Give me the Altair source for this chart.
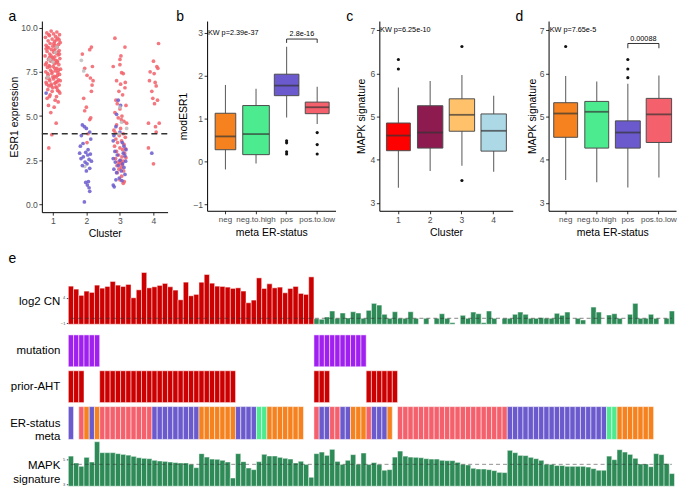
import altair as alt
import pandas as pd

FONT = "Liberation Sans"

# ---------------- panel a : ESR1 expression by cluster ----------------
a_groups = ["ER+", "ER-", "NA"]
a_colors = ["#F2606A", "#6A5ACD", "#BDBDBD"]

a1_pos = [(9.8,-0.05),(9.75,0.12),(9.7,-0.18),(9.65,0.02),(9.6,0.2),(9.55,-0.1),(9.5,0.08),(9.45,-0.22),(9.4,0.15),(9.35,-0.02),
          (9.3,0.1),(9.25,-0.14),(9.2,0.05),(9.15,0.22),(9.1,-0.08),(9.05,0.17),(9.0,-0.2),(8.95,0.0),(8.9,0.13),(8.85,-0.12),
          (8.8,0.07),(8.75,-0.04),(8.7,0.19),(8.65,-0.17),(8.6,0.03),(8.55,0.11),(8.5,-0.09),(8.45,0.16),(8.4,-0.23),(8.35,0.06),
          (8.3,-0.01),(8.25,0.21),(8.2,-0.13),(8.15,0.09),(8.1,-0.06),(8.05,0.14),(8.0,-0.19),(7.95,0.04),(7.9,0.18),(7.85,-0.11),
          (7.8,0.01),(7.75,-0.16),(7.7,0.12),(7.65,0.23),(7.6,-0.07),(7.55,0.08),(7.5,-0.21),(7.45,0.15),(7.4,-0.03),(7.35,0.2),
          (7.3,-0.14),(7.25,0.05),(7.2,0.1),(7.15,-0.18),(7.1,0.02),(7.05,0.17),(7.0,-0.09),(6.95,0.13),(6.9,-0.2),(6.85,0.06),
          (6.8,-0.05),(6.75,0.19),(6.7,-0.12),(6.65,0.09),(6.6,0.0),(6.5,-0.15),(6.45,0.14),(6.4,-0.02),(6.3,0.21),(6.2,-0.08),
          (6.1,0.11),(6.0,-0.17),(5.9,0.07),(5.8,0.16),(5.6,-0.13),(5.5,0.04),(5.2,-0.06),(4.6,0.1),(3.95,-0.03),(3.2,-0.12),
          (9.6,-0.12),(9.3,0.19),(9.0,0.07),(8.8,-0.2),(8.6,0.15),(8.4,-0.05),(8.2,0.02),(8.0,0.1),(7.8,-0.09),(7.6,0.17),
          (7.4,-0.15),(7.2,0.0),(7.0,0.22),(6.8,-0.18),(6.6,0.12),(9.1,0.03),(8.9,-0.16),(8.7,0.04),(8.5,0.2),(8.3,-0.1),
          (8.1,0.13),(7.9,-0.22),(7.7,0.06),(7.5,-0.02),(7.3,0.14),(7.1,-0.11),(6.9,0.09),(6.7,-0.04),(6.4,0.18),(6.1,-0.1)]
a1_na = [(8.6,0.08),(8.2,-0.1),(8.05,0.0),(7.2,-0.15),(8.9,0.12)]
a1_neg = [(6.3,-0.2)]

a2_pos = [(8.9,0.15),(8.75,0.1),(8.5,-0.12),(7.8,0.18),(7.7,-0.05),(7.3,0.02),(7.15,0.12),(7.0,0.2),(6.75,0.17),
          (6.4,0.15),(5.5,0.0),(5.3,-0.05),(4.9,0.13),(4.8,0.1),(4.0,0.05),(3.5,0.02),(6.0,-0.08)]
a2_na = [(8.15,-0.15),(7.55,-0.08),(2.15,-0.05)]
a2_neg = [(4.5,-0.12),(4.4,-0.06),(4.3,0.0),(4.1,0.1),(3.9,-0.15),(3.45,-0.1),(3.3,-0.18),(3.1,0.05),(2.95,-0.02),
          (2.85,0.12),(2.8,0.04),(2.7,-0.09),(2.6,-0.16),(2.55,0.08),(2.45,0.15),(2.4,-0.04),(2.3,0.02),(2.2,-0.12),
          (2.05,0.1),(1.9,0.0),(1.3,0.06),(1.25,-0.02),(1.1,0.03),(0.95,0.08),(0.75,0.1),(0.15,-0.06),(3.7,0.13),(2.9,-0.2)]

a3_pos = [(9.4,-0.15),(8.9,0.15),(8.4,0.03),(8.2,0.0),(7.8,-0.2),(7.45,0.05),(7.4,0.1),(7.0,-0.1),(6.8,0.02),(6.6,0.15),
          (6.4,-0.03),(6.2,0.08),(5.9,-0.12),(5.6,0.18),(5.4,0.0),(5.2,-0.15),(5.0,0.06),(4.9,-0.05),(4.7,0.12),(4.6,0.2),
          (4.5,-0.1),(4.3,0.02),(4.2,-0.18),(4.0,0.1),(3.9,-0.02),(3.8,0.16),(3.7,-0.12),(3.6,0.05),(3.5,-0.07),(3.4,0.12),
          (3.3,-0.16),(3.2,0.0),(3.1,0.08),(3.0,-0.1),(2.9,0.14),(2.8,-0.04),(2.7,0.06),(2.6,-0.13),(2.5,0.02),(2.45,0.1),
          (2.4,-0.06),(2.35,0.03),(2.3,-0.01),(2.25,0.07),(2.2,-0.09),(2.1,0.04),(2.0,-0.03),(1.9,0.11),(1.8,-0.08),(1.6,0.05),
          (1.4,0.0),(1.3,0.13),(1.2,0.1),(6.9,0.16),(7.9,0.0),(5.7,-0.08),(4.8,0.04),(4.05,-0.14),(3.15,0.17),(2.65,0.18)]
a3_neg = [(5.9,-0.05),(5.6,0.02),(5.1,-0.1),(4.4,-0.12),(4.1,0.0),(3.9,-0.18),(3.6,-0.2),(3.3,0.12),(3.1,0.18),(3.0,-0.15),
          (2.9,0.1),(2.8,-0.08),(2.75,0.15),(2.6,-0.2),(2.5,0.0),(2.4,-0.14),(2.3,0.08),(2.2,-0.05),(2.1,0.12),(2.0,-0.18),
          (1.9,0.04),(1.8,-0.1),(1.7,0.15),(1.5,-0.02),(1.4,-0.12),(1.35,0.06),(1.1,-0.2),(1.0,-0.17),(3.5,0.07),(2.45,0.17)]
a3_na = [(5.5,0.0),(4.65,0.05),(4.3,0.2),(4.0,-0.03)]

a4_pos = [(9.1,0.15),(8.1,0.0),(7.8,0.1),(7.7,0.13),(7.5,-0.1),(7.4,0.02),(7.0,-0.12),(6.9,0.05),(6.7,0.08),(6.0,-0.02),
          (5.9,0.12),(5.7,0.03),(4.6,-0.15),(4.6,0.17),(4.4,0.06),(4.1,0.08),(3.2,-0.15),(2.3,0.0),(6.4,-0.05)]
a4_neg = [(2.9,-0.05)]

a_threshold = [4.0]

# ---------------- panels b-d : box plot statistics ----------------
er_cats = ["neg", "neg.to.high", "pos", "pos.to.low"]
er_colors = ["#F5821F", "#4DEB8F", "#6A5ACD", "#F4606B"]
cl_cats = ["1", "2", "3", "4"]
cl_colors = ["#FF0000", "#8E1B4F", "#FFC26B", "#ADD8E6"]

b_q1 = [0.27, 0.155, 1.53, 1.11]
b_med = [0.58, 0.635, 1.765, 1.26]
b_q3 = [1.12, 1.30, 2.03, 1.38]
b_lo = [-0.19, -0.05, 1.02, 0.87]
b_hi = [1.78, 1.69, 2.67, 1.74]
b_w = [20.7, 26.7, 24.7, 24]
b_out_cat = ["pos", "pos", "pos", "pos", "pos.to.low", "pos.to.low", "pos.to.low"]
b_out_val = [0.48, 0.43, 0.22, 0.17, 0.67, 0.39, 0.17]

c_q1 = [4.21, 4.27, 4.66, 4.20]
c_med = [4.56, 4.63, 5.04, 4.67]
c_q3 = [4.85, 5.25, 5.41, 5.06]
c_lo = [3.35, 3.74, 3.86, 3.72]
c_hi = [5.67, 5.82, 5.96, 5.48]
c_w = [24, 25.5, 25.5, 25.5]
c_out_cat = ["1", "1", "3", "3"]
c_out_val = [6.32, 6.10, 6.62, 3.52]

d_q1 = [4.52, 4.27, 4.27, 4.40]
d_med = [5.07, 5.11, 4.63, 5.05]
d_q3 = [5.32, 5.35, 4.90, 5.42]
d_lo = [3.53, 3.48, 3.36, 3.59]
d_hi = [5.94, 5.81, 5.76, 5.95]
d_w = [24, 24, 25, 25.5]
d_out_cat = ["neg", "pos", "pos", "pos"]
d_out_val = [6.62, 6.32, 6.10, 5.90]

# ---------------- panel e : per-sample tracks ----------------
cn_values = [6.27,5.69,4.47,5.30,5.05,6.47,5.88,6.21,7.18,6.47,
             6.21,6.60,4.00,5.55,8.93,5.94,6.14,6.41,6.80,6.14,
             5.50,3.61,7.05,4.39,4.66,7.05,8.54,6.85,6.27,6.21,
             6.08,5.83,5.94,5.30,3.03,3.55,7.88,5.83,6.72,5.94,
             6.08,4.97,5.83,6.21,4.85,4.66,8.08,
             -0.08,-0.19,0.25,1.42,0.0,1.03,0.06,1.28,1.03,0.0,
             1.55,2.91,2.58,0.78,0.0,1.28,0.0,0.0,1.28,0.0,
             None,0.0,None,0.0,0.89,0.0,-0.85,None,0.58,0.0,
             1.22,0.89,-0.85,1.42,0.0,None,0.0,0.0,0.78,1.22,
             0.78,0.0,0.0,0.12,0.0,0.0,0.97,0.58,1.22,None,
             0.0,-0.33,None,2.19,1.22,None,0.64,0.89,0.0,None,
             0.78,2.91,0.0,0.0,0.78,0.0,None,0.0,1.42]
cn_group = ["gain"] * 47 + ["neutral"] * 69

mapk_values = [5.29,4.73,4.46,5.19,4.81,6.46,5.57,5.57,5.57,5.49,
               5.43,5.37,5.27,5.16,5.11,5.08,4.95,4.89,4.86,4.81,
               4.76,4.73,4.73,4.62,4.35,5.49,5.21,5.05,5.03,4.95,
               4.81,3.51,5.49,4.84,4.32,4.19,4.84,5.43,5.30,5.30,
               5.19,5.11,5.05,4.73,4.87,4.62,3.57,5.49,5.62,5.35,
               5.84,4.86,4.62,4.95,5.41,4.62,5.54,4.62,4.76,4.60,
               4.14,4.19,5.21,5.70,5.29,5.21,5.19,5.16,5.08,5.05,
               5.05,4.95,4.92,4.92,4.78,4.62,4.57,4.30,4.24,4.24,
               4.19,4.11,3.97,3.95,5.76,5.57,5.35,5.33,5.19,5.08,
               4.95,4.62,4.62,4.52,4.52,4.46,4.46,4.46,4.46,4.40,
               4.27,4.14,4.14,5.29,5.00,5.81,5.62,5.43,5.11,4.65,
               4.65,4.43,5.49,5.41,4.68,3.87]
mapk_ref = 4.62

mutation_cols = [0,1,2,3,4,5,47,48,49,50,51,52,53,54,55,56]
aht_cols = [0,1,2,6,7,8,9,10,11,12,13,14,15,16,17,18,19,20,21,22,23,24,25,26,27,28,29,30,31,
            47,48,49,57,58,59,60,61,62]
er_codes = ["P","","PL","N","P","N","PL","PL","PL","PL","PL","PL","PL","PL","PL","PL",
            "P","P","P","P","P","P","P","P","P","N","N","N","N","N","N","N",
            "P","P","P","P","NH","NH","N","N","N","N","N","N","N","","",
            "PL","P","P","PL","PL","P","P","N","N","N","PL","P","P","P","N","",
            "PL","PL","PL","PL","PL","PL","PL","PL","PL","PL","PL","PL","PL","PL","PL","PL","PL","PL","PL","PL","PL",
            "P","P","P","P","P","P","P","P","P","P","P","P","P","P","P","P","P","P","P",
            "NH","NH","N","N","N","N","N","N","N","","","",""]
er_names = {"P": "pos", "PL": "pos.to.low", "N": "neg", "NH": "neg.to.high"}

# ---------------- helpers ----------------
ER_HEX = dict(zip(er_cats, er_colors))
CL_HEX = dict(zip(cl_cats, cl_colors))
A_HEX = dict(zip(a_groups, a_colors))
CN_HEX = {"gain": "#CC0000", "neutral": "#2E8B57"}


def ax(**kw):
    base = dict(domainColor="black", domainWidth=1, tickColor="#333333", tickSize=3, tickWidth=1,
                labelColor="#4D4D4D", labelFont=FONT, labelFontSize=8.6, labelPadding=1.5,
                titleFont=FONT, titleFontSize=10.5, titleFontWeight="normal", titleColor="black",
                grid=False)
    base.update(kw)
    return alt.Axis(**base)


def letter(txt, dx, dy):
    return alt.Chart(pd.DataFrame({"t": [txt]})).mark_text(
        align="left", baseline="top", fontSize=14, font=FONT, color="black").encode(
        x=alt.value(dx), y=alt.value(dy), text="t:N")


LET_Y = -11.2

# ---------------- panel a ----------------
rows = []
for cl, grp, pts in [(1, "ER+", a1_pos), (1, "NA", a1_na), (1, "ER-", a1_neg),
                     (2, "ER+", a2_pos), (2, "NA", a2_na), (2, "ER-", a2_neg),
                     (3, "ER+", a3_pos), (3, "ER-", a3_neg), (3, "NA", a3_na),
                     (4, "ER+", a4_pos), (4, "ER-", a4_neg)]:
    for y, dx in pts:
        rows.append(dict(cluster=cl, grp=grp, y=y, x=cl + dx, fill=A_HEX[grp]))
df_a = pd.DataFrame(rows)

xa = alt.Scale(domain=[0.673, 4.42], range=[0, 126.3], nice=False, zero=False)
ya = alt.Scale(domain=[-0.43, 10.37], nice=False, zero=False)
pts_a = alt.Chart(df_a).mark_circle(size=14, opacity=0.85).encode(
    x=alt.X("x:Q", scale=xa, axis=ax(values=[1, 2, 3, 4], format="d", title="Cluster",
                                    titleBaseline="middle", titleY=21)),
    y=alt.Y("y:Q", scale=ya, axis=ax(values=[0, 2.5, 5, 7.5, 10], format=".1f",
                                    title="ESR1 expression", titleBaseline="middle", titleX=-27.4)),
    color=alt.Color("fill:N", scale=None),
)
thr_a = alt.Chart(pd.DataFrame({"v": a_threshold})).mark_rule(
    strokeDash=[6, 4], color="#333333", strokeWidth=1.4).encode(
    y="v:Q", x=alt.datum(0.673), x2=alt.datum(4.42))
panel_a = alt.layer(pts_a, thr_a, letter("a", -33.5, LET_Y)).properties(width=165.8, height=192)


# ---------------- box panels ----------------
def box_panel(cats, hexmap, widths, q1, med, q3, lo, hi, out_cat, out_val, ydom, yticks,
              view_w, xr, pad_outer, xtitle, ytitle, ytitle_x, label, label_dx, kw_text, kw_y, kw_dx,
              bracket=None, xlabel_size=8.6):
    df = pd.DataFrame(dict(cat=cats, q1=q1, med=med, q3=q3, lo=lo, hi=hi, w=widths,
                           fill=[hexmap[c] for c in cats]))
    xs = alt.Scale(domain=cats, range=[0, xr], paddingInner=0, paddingOuter=pad_outer)
    step = xr / (len(cats) + 2 * pad_outer)
    ys = alt.Scale(domain=ydom, nice=False, zero=False)
    X = alt.X("cat:N", scale=xs, axis=ax(title=xtitle, labelAngle=0, labelFontSize=xlabel_size,
                                        titleBaseline="middle", titleY=21.5))
    Y_axis = ax(values=yticks, title=ytitle, titleBaseline="middle", titleX=ytitle_x)
    base = alt.Chart(df)
    whisk = base.mark_rule(color="#666666", strokeWidth=1.1).encode(
        x=X, y=alt.Y("lo:Q", scale=ys, axis=Y_axis), y2="hi:Q")
    box = base.mark_bar(stroke="#4D4D4D", strokeWidth=1).encode(
        x="cat:N", y="q1:Q", y2="q3:Q",
        size=alt.Size("w:Q", scale=None),
        color=alt.Color("fill:N", scale=None))
    medl = base.mark_tick(thickness=1.8, color="#333333").encode(
        x="cat:N", y="med:Q", size=alt.Size("w:Q", scale=None))
    outs = alt.Chart(pd.DataFrame(dict(cat=out_cat, v=out_val))).mark_circle(
        size=10, color="#111111", opacity=1).encode(x="cat:N", y="v:Q")
    kw = alt.Chart(pd.DataFrame(dict(t=[kw_text]))).mark_text(
        align="left", baseline="middle", fontSize=7.3, font=FONT, color="black", dx=kw_dx).encode(
        x=alt.datum(cats[0]), y=alt.datum(kw_y), text="t:N")
    layers = [whisk, box, medl, outs, kw]
    if bracket is not None:
        lc, rc, ytop, ybot, txt, ytxt = bracket
        hr = alt.Chart(pd.DataFrame(dict(a=[lc], b=[rc], y=[ytop]))).mark_rule(
            color="black", strokeWidth=0.8).encode(x="a:N", x2="b:N", y="y:Q")
        vr = alt.Chart(pd.DataFrame(dict(a=[lc, rc], y=[ytop, ytop], y2=[ybot, ybot]))).mark_rule(
            color="black", strokeWidth=0.8).encode(x="a:N", y="y:Q", y2="y2:Q")
        lab = alt.Chart(pd.DataFrame(dict(a=[lc], y=[ytxt], t=[txt]))).mark_text(
            fontSize=7.3, font=FONT, color="black", baseline="middle", dx=step / 2).encode(
            x="a:N", y="y:Q", text="t:N")
        layers += [hr, vr, lab]
    layers.append(letter(label, label_dx, LET_Y))
    return alt.layer(*layers).properties(width=view_w, height=190.6)


panel_b = box_panel(er_cats, ER_HEX, b_w, b_q1, b_med, b_q3, b_lo, b_hi, b_out_cat, b_out_val,
                    [-1.153, 3.27], [-1, 0, 1, 2, 3], 172.1, 129, 0.1, "meta ER-status", "modESR1", -23.2,
                    "b", -31.0, "KW p=2.39e-37", 3.0, -17.6,
                    bracket=("pos", "pos.to.low", 2.85, 2.76, "2.8e-16", 2.96), xlabel_size=8)
panel_c = box_panel(cl_cats, CL_HEX, c_w, c_q1, c_med, c_q3, c_lo, c_hi, c_out_cat, c_out_val,
                    [2.82, 7.21], [3, 4, 5, 6, 7], 169.1, 134, 0.1, "Cluster", "MAPK signature", -17.9,
                    "c", -33.2, "KW p=6.25e-10", 7.0, -18.4)
panel_d = box_panel(er_cats, ER_HEX, d_w, d_q1, d_med, d_q3, d_lo, d_hi, d_out_cat, d_out_val,
                    [2.82, 7.21], [3, 4, 5, 6, 7], 128, 128, 0.05, "meta ER-status", "MAPK signature", -16.0,
                    "d", -33.2, "KW p=7.65e-5", 7.0, -16.0,
                    bracket=("pos", "pos.to.low", 6.69, 6.58, "0.00088", 6.80), xlabel_size=8)

top = alt.hconcat(panel_a, panel_b, panel_c, panel_d, spacing=0, bounds="flush")

# ---------------- panel e ----------------
ncol = len(cn_values)
cols = list(range(ncol))
EW = 635.5
ex = alt.Scale(domain=cols, range=[26.6, EW], paddingInner=0, paddingOuter=0)
AX_OFF = -26.6
row_title = dict(titleAngle=0, titleAlign="right", titleBaseline="middle", titleX=-8.5,
                 titleFontSize=11.5, titleLineHeight=14)

df_e = pd.DataFrame(dict(col=cols, cn=cn_values, fill=[CN_HEX[g] for g in cn_group], mapk=mapk_values))

cn_bars = alt.Chart(df_e).mark_bar(stroke="white", strokeWidth=0.6, strokeOpacity=0.8).encode(
    x=alt.X("col:O", scale=ex, axis=None),
    y=alt.Y("cn:Q", scale=alt.Scale(domain=[-2.466, 10.155], nice=False, zero=False),
            axis=ax(values=[-1, 0, 4], labelFontSize=4, tickSize=2, domain=False, offset=AX_OFF,
                    title="log2 CN", titleY=35, **row_title)),
    y2=alt.datum(-1.165),
    color=alt.Color("fill:N", scale=None))
cn_ref = alt.Chart(pd.DataFrame(dict(a=[0], b=[ncol - 1], v=[0.0]))).mark_rule(
    strokeDash=[4, 3], color="#333333", opacity=0.6, strokeWidth=1).encode(x="a:O", x2="b:O", y="v:Q")
cn_chart = alt.layer(cn_bars, cn_ref, letter("e", -33.5, -14)).properties(width=EW, height=65)


def track(cols_in, fills, name, title, h):
    df = pd.DataFrame(dict(col=cols_in, fill=fills, track=[name] * len(cols_in)))
    return alt.Chart(df).mark_rect(stroke="white", strokeWidth=0.7, strokeOpacity=0.7).encode(
        x=alt.X("col:O", scale=ex, axis=None),
        y=alt.Y("track:N", scale=alt.Scale(paddingInner=0, paddingOuter=0),
                axis=ax(labels=False, ticks=False, domain=False, offset=AX_OFF, title=title,
                        titleY=h / 2, **row_title)),
        color=alt.Color("fill:N", scale=None),
    ).properties(width=EW, height=h)


mut_chart = track(mutation_cols, ["#A020F0"] * len(mutation_cols), "mutation", "mutation", 32)
aht_chart = track(aht_cols, ["#CC0000"] * len(aht_cols), "prior-AHT", "prior-AHT", 32)
er_idx = [i for i, c in enumerate(er_codes) if c]
er_fill = [ER_HEX[er_names[er_codes[i]]] for i in er_idx]
er_chart = track(er_idx, er_fill, "er", ["ER-status", "meta"], 33)

mapk_bars = alt.Chart(df_e).mark_bar(stroke="white", strokeWidth=0.6, strokeOpacity=0.8,
                                     color="#2E8B57").encode(
    x=alt.X("col:O", scale=ex, axis=None),
    y=alt.Y("mapk:Q", scale=alt.Scale(domain=[2.84, 6.32], nice=False, zero=False),
            axis=ax(values=[3, 5], labelFontSize=4, tickSize=2, domain=False, offset=AX_OFF,
                    title=["MAPK", "signature"], titleY=22, **row_title)),
    y2=alt.datum(2.84))
mapk_line = alt.Chart(pd.DataFrame(dict(a=[0], b=[ncol - 1], v=[mapk_ref]))).mark_rule(
    strokeDash=[4, 3], color="#333333", opacity=0.55, strokeWidth=1).encode(x="a:O", x2="b:O", y="v:Q")
mapk_chart = alt.layer(mapk_bars, mapk_line).properties(width=EW, height=43)

e_block = alt.vconcat(cn_chart, mut_chart, aht_chart, er_chart, mapk_chart, spacing=4, bounds="flush")

chart = alt.vconcat(top, e_block, spacing=12.3).properties(
    padding=0).configure(font=FONT).configure_view(stroke="transparent")

chart.save("out.html", embed_options={"renderer": "svg", "actions": False})
